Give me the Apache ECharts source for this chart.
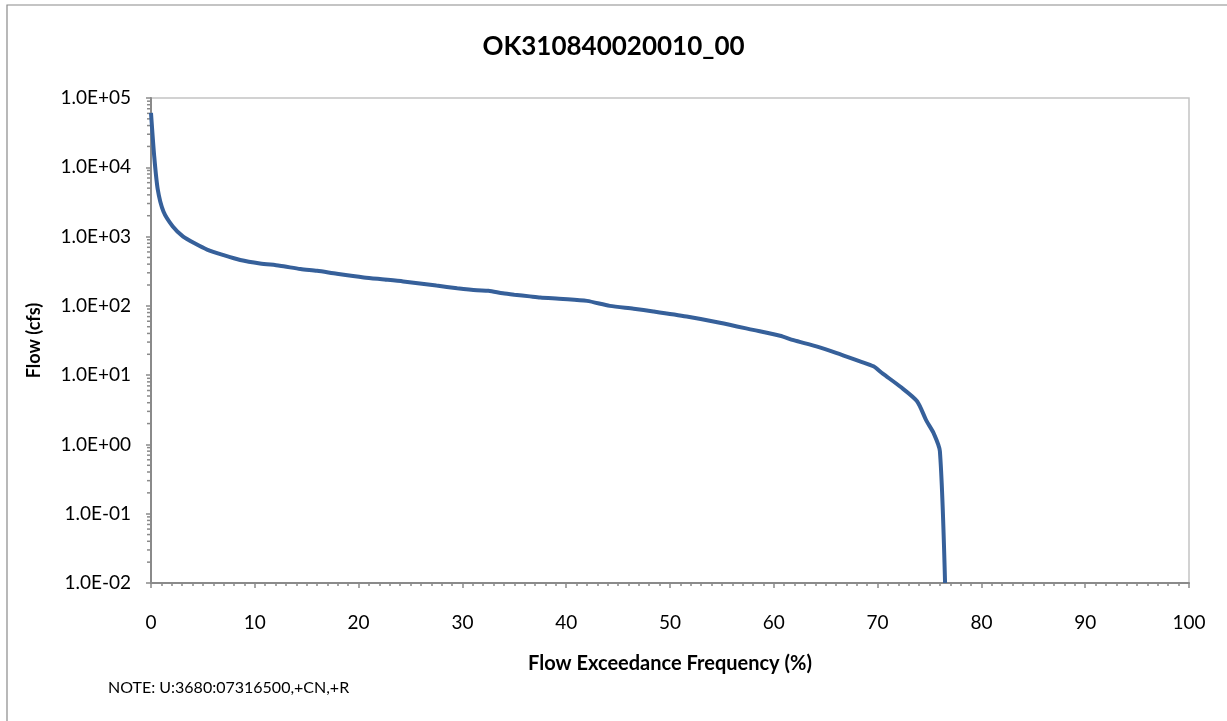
<!DOCTYPE html>
<html>
<head>
<meta charset="utf-8">
<script src="https://cdn.jsdelivr.net/npm/echarts@6/dist/echarts.min.js"></script>
<style>
html,body{margin:0;padding:0;background:#fff;}
#chart{width:1227px;height:721px;}
</style>
</head>
<body>
<div id="chart"></div>
<script>
// Data (x: exceedance %, y: flow cfs)
const exceedance = [0, 0.3, 0.65, 1.2, 2.1, 3.1, 4.2, 5.4, 7, 8.6, 10.5, 12.4, 14.4, 16, 17.9, 20.5, 22.5, 24.3, 27.5, 29.5, 31.4, 32.5, 33.9, 35, 36.5, 37.5, 39.7, 42, 44.2, 46.5, 48.4, 51.6, 54.8, 58, 60.6, 61.9, 64.1, 66, 68.3, 69.6, 70.5, 72.2, 73.8, 74.7, 75.4, 76, 76.5];
const flow = [61000, 15000, 4800, 2300, 1400, 1000, 800, 650, 540, 460, 410, 380, 340, 320, 290, 257, 240, 225, 196, 180, 168, 165, 152, 145, 137, 132, 126, 118, 100, 91, 83, 70, 57, 45, 37, 32, 26, 21, 15.8, 13.4, 10.5, 6.8, 4.2, 2.2, 1.45, 0.8, 0.01];
const titleText = 'OK310840020010_00';
const xAxisTitle = 'Flow Exceedance Frequency (%)';
const yAxisTitle = 'Flow (cfs)';
const noteText = 'NOTE: U:3680:07316500,+CN,+R';
const yMin = 0.01, yMax = 100000;

// minor log tick values (2..9 x 10^k)
const minorTickValues = [];
for (let k = -2; k < 5; k++) {
  for (let m = 2; m <= 9; m++) minorTickValues.push(m * Math.pow(10, k));
}

function fmtExp(v) {
  const e = Math.round(Math.log10(v));
  const mant = v / Math.pow(10, e);
  const sign = e < 0 ? '-' : '+';
  const ae = Math.abs(e);
  return mant.toFixed(1) + 'E' + sign + (ae < 10 ? '0' + ae : ae);
}

const FONT = 'Lato, "Open Sans", sans-serif';
const chart = echarts.init(document.getElementById('chart'), null, {renderer: 'canvas'});
chart.setOption({
  animation: false,
  backgroundColor: '#ffffff',
  title: {
    text: titleText,
    left: 'center',
    top: 29,
    textStyle: {fontFamily: FONT, fontSize: 26, fontWeight: 'bold', color: '#000'}
  },
  graphic: [
    {type: 'rect', shape: {x: 7, y: 5, width: 1240, height: 740}, style: {fill: 'none', stroke: '#8a8a8a', lineWidth: 1.2}, silent: true},
    {type: 'text', left: 108, top: 680, style: {text: noteText, font: '16px ' + FONT, fill: '#000'}}
  ],
  grid: {left: 151, right: 38, top: 98, bottom: 138, show: true, borderColor: '#c4c4c4', borderWidth: 1.5},
  xAxis: {
    type: 'value', min: 0, max: 100, interval: 10,
    name: xAxisTitle, nameLocation: 'middle', nameGap: 71,
    nameTextStyle: {fontFamily: FONT, fontSize: 20, fontWeight: 'bold', color: '#000'},
    axisLine: {show: true, lineStyle: {color: '#8a8a8a', width: 2}},
    axisTick: {show: true, length: 5, lineStyle: {color: '#8a8a8a', width: 1.5}},
    minorTick: {show: true, splitNumber: 10, length: 3, lineStyle: {color: '#8a8a8a', width: 1.5}},
    axisLabel: {margin: 30, fontFamily: FONT, fontSize: 19, color: '#000'},
    splitLine: {show: false}
  },
  yAxis: {
    type: 'log', logBase: 10, min: yMin, max: yMax,
    name: yAxisTitle, nameLocation: 'middle', nameGap: 108, nameRotate: 90,
    nameTextStyle: {fontFamily: FONT, fontSize: 18, fontWeight: 'bold', color: '#000'},
    axisLine: {show: true, lineStyle: {color: '#8a8a8a', width: 2}},
    axisTick: {show: true, length: 5, lineStyle: {color: '#8a8a8a', width: 1.5}},
    axisLabel: {margin: 20, fontFamily: FONT, fontSize: 19, color: '#000', formatter: fmtExp},
    splitLine: {show: false}
  },
  series: [
    {
      type: 'custom',
      silent: true,
      clip: false,
      data: minorTickValues.map(v => [0, v]),
      renderItem: function (params, api) {
        const p = api.coord([0, api.value(1)]);
        return {
          type: 'line',
          shape: {x1: p[0] - 4, y1: p[1], x2: p[0], y2: p[1]},
          style: {stroke: '#8a8a8a', lineWidth: 1.5}
        };
      },
      z: 1
    },
    {
      type: 'line',
      data: exceedance.map((x, i) => [x, flow[i]]),
      showSymbol: false,
      smooth: 0.25,
      clip: true,
      lineStyle: {color: '#36609a', width: 4},
      z: 3
    }
  ]
});
</script>
</body>
</html>
